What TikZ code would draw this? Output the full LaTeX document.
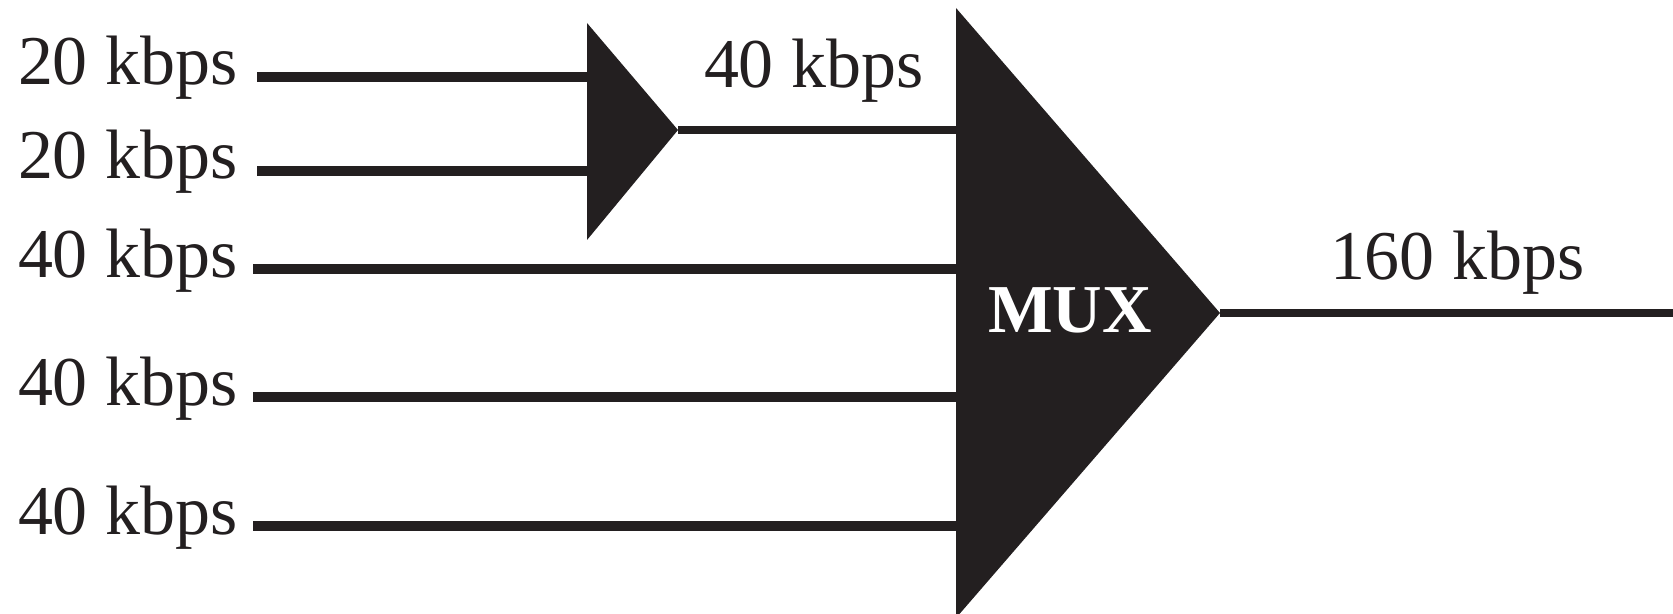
\documentclass[tikz,border=0pt]{standalone}
\usepackage{fontspec}
\setmainfont{Liberation Serif}
\definecolor{ink}{HTML}{231F20}
\begin{document}
\begin{tikzpicture}[x=0.02cm, y=-0.02cm,
  rate/.style={inner sep=0pt, outer sep=0pt, text=ink,
    font=\fontsize{39.8pt}{47pt}\selectfont},
  feed/.style={draw=ink, line width=0.2cm},
  link/.style={draw=ink, line width=0.16cm},
  block/.style={fill=ink}]
\useasboundingbox (0,0) rectangle (1673,614);

% small 2:1 combiner
\coordinate (s-top) at (587,23);
\coordinate (s-bot) at (587,240);
\coordinate (s-tip) at (678,130);
\fill[block] (s-top) -- (s-tip) -- (s-bot) -- cycle;

% main multiplexer
\coordinate (m-top) at (956,8);
\coordinate (m-bot) at (956,618);
\coordinate (m-tip) at (1220,313);
\fill[block] (m-top) -- (m-tip) -- (m-bot) -- cycle;
\node[rate, text=white, font=\fontsize{39pt}{46pt}\selectfont\bfseries] (mux) at (1070,310) {MUX};

% input rates
\node[rate, anchor=base west] (r1) at (18,85)  {20 kbps};
\node[rate, anchor=base west] (r2) at (18,179) {20 kbps};
\node[rate, anchor=base west] (r3) at (18,278) {40 kbps};
\node[rate, anchor=base west] (r4) at (18,406) {40 kbps};
\node[rate, anchor=base west] (r5) at (18,535) {40 kbps};
\node[rate, anchor=base west] (rc) at (704,88)  {40 kbps};
\node[rate, anchor=base west] (ro) at (1330,280) {160 kbps};

% line start points
\coordinate (a1) at (257,77);
\coordinate (a2) at (257,171);
\coordinate (a3) at (253,269);
\coordinate (a4) at (253,397);
\coordinate (a5) at (253,526);
\coordinate (out) at (1673,313);

% connectors
\draw[feed] (a1) -- (a1 -| s-top);
\draw[feed] (a2) -- (a2 -| s-top);
\draw[link] (s-tip) -- (s-tip -| m-top);
\draw[feed] (a3) -- (a3 -| m-top);
\draw[feed] (a4) -- (a4 -| m-top);
\draw[feed] (a5) -- (a5 -| m-top);
\draw[link] (m-tip) -- (out);
\end{tikzpicture}
\end{document}
